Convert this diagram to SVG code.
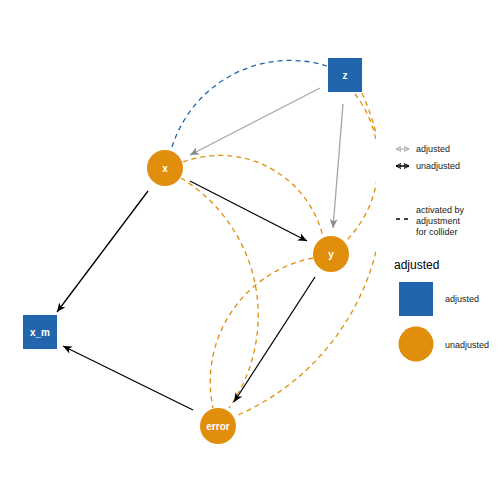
<svg xmlns="http://www.w3.org/2000/svg" width="504" height="504" viewBox="0 0 504 504">
<defs>
<style>
.lbl{font-family:"Liberation Sans",Arial,sans-serif;font-weight:bold;font-size:10px;fill:#fff;text-anchor:middle}
.leg{font-family:"Liberation Sans",Arial,sans-serif;font-size:9px;fill:#1a1a1a}
.dash{fill:none;stroke:#E08E0B;stroke-width:1.3;stroke-dasharray:5 4}
.blue{fill:#2166AC}
.orange{fill:#E08E0B}
.blk{stroke:#000;stroke-width:1.3;fill:none}
.gry{stroke:#A6A6A6;stroke-width:1.3;fill:none}
</style>
<clipPath id="panel"><rect x="0" y="0" width="376" height="504"/></clipPath>
<marker id="ab" markerUnits="userSpaceOnUse" markerWidth="10" markerHeight="8" refX="9" refY="4" orient="auto">
<path d="M0,0 L9,4 L0,8 L2.5,4 z" fill="#000"/>
</marker>
<marker id="ag" markerUnits="userSpaceOnUse" markerWidth="10" markerHeight="8" refX="9" refY="4" orient="auto">
<path d="M0,0 L9,4 L0,8 L2.5,4 z" fill="#8c8c8c"/>
</marker>
<marker id="lb" markerUnits="userSpaceOnUse" markerWidth="6" markerHeight="6" refX="5" refY="3" orient="auto-start-reverse">
<path d="M0,0.5 L5,3 L0,5.5 z" fill="none" stroke="#000" stroke-width="1"/>
</marker>
<marker id="lg" markerUnits="userSpaceOnUse" markerWidth="6" markerHeight="6" refX="5" refY="3" orient="auto-start-reverse">
<path d="M0,0.5 L5,3 L0,5.5 z" fill="none" stroke="#A6A6A6" stroke-width="1"/>
</marker>
</defs>
<rect width="504" height="504" fill="#fff"/>
<g id="connectors">
<g clip-path="url(#panel)">
<path d="M172,147 A124,124 0 0 1 327,66" fill="none" stroke="#2166AC" stroke-width="1.3" stroke-dasharray="5 4"/>
<path class="dash" d="M183,162 A106,106 0 0 1 323,237"/>
<path class="dash" d="M355,94 A112,112 0 0 1 347,240"/>
<path class="dash" d="M362,93 A243,243 0 0 1 238,415"/>
<path class="dash" d="M181,178 A161,161 0 0 1 229,408"/>
<path class="dash" d="M313,258 A126,126 0 0 0 213,408"/>
</g>
<line class="gry" x1="320" y1="88" x2="190" y2="155" marker-end="url(#ag)"/>
<line class="gry" x1="343" y1="104" x2="333" y2="228" marker-end="url(#ag)"/>
<line class="blk" x1="190" y1="181" x2="307" y2="241" marker-end="url(#ab)"/>
<line class="blk" x1="148" y1="191" x2="57" y2="312" marker-end="url(#ab)"/>
<line class="blk" x1="315" y1="277" x2="234" y2="402" marker-end="url(#ab)"/>
<line class="blk" x1="193" y1="410" x2="63" y2="346" marker-end="url(#ab)"/>
</g>
<g id="z"><rect class="blue" x="328" y="58" width="34" height="34"/><text class="lbl" x="345" y="79">z</text></g>
<g id="x"><circle class="orange" cx="165" cy="168" r="18"/><text class="lbl" x="165" y="172">x</text></g>
<g id="y"><circle class="orange" cx="331" cy="254" r="18"/><text class="lbl" x="331" y="258">y</text></g>
<g id="error"><circle class="orange" cx="218" cy="426" r="18"/><text class="lbl" x="218" y="430">error</text></g>
<g id="x_m"><rect class="blue" x="23" y="315" width="34" height="34"/><text class="lbl" x="40" y="336">x_m</text></g>
<g id="legend">
<line x1="396" y1="149" x2="409" y2="149" stroke="#A6A6A6" stroke-width="1" marker-start="url(#lg)" marker-end="url(#lg)"/>
<text class="leg" x="416" y="152">adjusted</text>
<line x1="396" y1="166" x2="409" y2="166" stroke="#000" stroke-width="1.5" marker-start="url(#lb)" marker-end="url(#lb)"/>
<text class="leg" x="416" y="169">unadjusted</text>
<line x1="396" y1="219" x2="410" y2="219" stroke="#000" stroke-width="1.3" stroke-dasharray="4 4"/>
<text class="leg" x="416" y="213">activated by</text>
<text class="leg" x="416" y="224">adjustment</text>
<text class="leg" x="416" y="235">for collider</text>
<text x="394" y="269" font-family="Liberation Sans, Arial, sans-serif" font-size="12" fill="#000">adjusted</text>
<rect class="blue" x="399" y="282" width="34" height="34"/>
<text class="leg" x="445" y="302">adjusted</text>
<circle class="orange" cx="416" cy="344" r="17.5"/>
<text class="leg" x="445" y="348">unadjusted</text>
</g>
</svg>
